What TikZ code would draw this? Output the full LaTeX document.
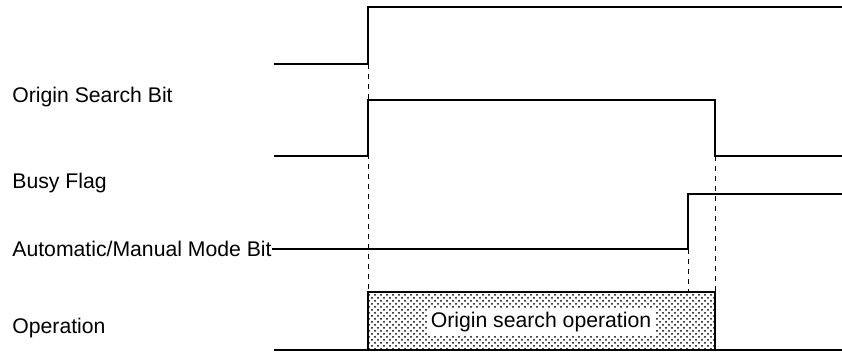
\documentclass[tikz,border=0pt]{standalone}
\usepackage{fontspec}
\setmainfont{Liberation Sans}
\usetikzlibrary{patterns,positioning}

\begin{document}
\begin{tikzpicture}[
    x=0.5pt, y=-0.5pt,
    sig/.style={line width=1pt},
    guide/.style={line width=0.45pt, dash pattern=on 2.5pt off 2.5pt},
    lbl/.style={anchor=west, inner sep=0pt, font=\fontsize{10.6}{12}\selectfont},
    opbox/.style={draw, line width=1pt, pattern=crosshatch dots, pattern color=black}
]
\useasboundingbox (0,0) rectangle (842,352);
% signal names
\node[lbl] (osb) at (12,97) {Origin Search Bit};
\node[lbl] (busy) at (12,183) {Busy Flag};
\node[lbl] (amb) at (12,249) {Automatic/Manual Mode Bit};
\node[lbl] (op) at (12,328) {Operation};
% edge points
\coordinate (osbup) at (368,64);
\coordinate (busyup) at (368,156);
\coordinate (busydn) at (715,156);
\coordinate (ambup) at (688,249);
% waveforms
\draw[sig] (274,64) -- (osbup) -- (368,7) -- (842,7);
\draw[sig] (274,156) -- (busyup) -- (368,100) -- (715,100) -- (busydn) -- (842,156);
\draw[sig] (amb.east) -- (ambup) -- (688,194) -- (842,194);
% operation
\draw[opbox] (368,350) -- (368,292) -- (715,292) -- (715,350);
\node[fill=white, inner sep=2pt, font=\fontsize{10.6}{12}\selectfont] (opname) at (541,322) {Origin search operation};
\draw[sig] (274,350) -- (842,350);
% timing guides
\draw[guide] (osbup) -- (368,292);
\draw[guide] (busydn) -- (715,292);
\draw[guide] (ambup) -- (688,292);
\end{tikzpicture}
\end{document}
